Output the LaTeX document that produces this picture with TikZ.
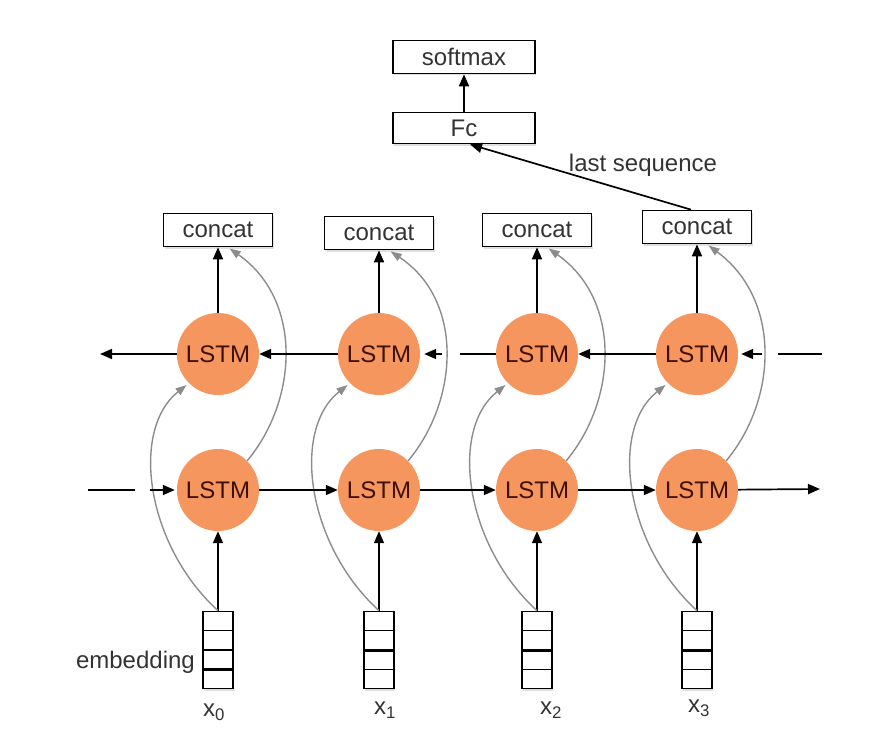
\documentclass[tikz,border=0pt]{standalone}
\usepackage{fontspec}
\setmainfont{Liberation Sans}
\usetikzlibrary{arrows.meta,shadows,calc}
\definecolor{lstmfill}{HTML}{F5965E}
\definecolor{lstmtext}{HTML}{3E1004}
\definecolor{txt}{HTML}{333333}
\definecolor{curvecol}{HTML}{8C8C8C}
\begin{document}
\begin{tikzpicture}[x=1pt,y=-1pt,
  font=\fontsize{24}{28}\selectfont,
  lstm/.style={circle,fill=lstmfill,minimum size=82pt,inner sep=0pt,text=lstmtext,font=\fontsize{24}{26}\selectfont},
  box/.style={draw=black,line width=1.7pt,fill=white,text=txt,minimum height=33pt,inner sep=0pt,
    drop shadow={shadow xshift=1pt,shadow yshift=-2pt,opacity=0.25}},
  emb/.style={draw=black,line width=1.7pt,fill=white,minimum width=30pt,minimum height=77pt,inner sep=0pt,
    drop shadow={shadow xshift=1pt,shadow yshift=-2pt,opacity=0.25}},
  lbl/.style={text=txt,inner sep=0pt},
  arr/.style={line width=1.7pt,-{Triangle[length=12pt,width=10pt]}},
  plainline/.style={line width=1.7pt},
  garr/.style={draw=curvecol,line width=1.4pt,-{Triangle[length=11pt,width=8pt]}},
]
\useasboundingbox (0,0) rectangle (892,752);

% top boxes
\node[box,minimum width=142pt] (sm) at (464,57) {softmax};
\node[box,minimum width=142pt,minimum height=31pt] (fc) at (464,128) {Fc};

% columns
\foreach \i/\cx/\cy/\th in {1/218/230/0.75,2/379/233/0.5,3/537/230/0.5,4/697/227/0.5}{
  \node[box,minimum width=109pt] (c\i) at (\cx,\cy) {concat};
  \node[lstm] (t\i) at (\cx,354) {LSTM};
  \node[lstm] (b\i) at (\cx,490) {LSTM};
  \node[emb] (e\i) at (\cx,650) {};
  \draw[line width=1.4pt] ($(e\i.north west)!0.25!(e\i.south west)$) -- ($(e\i.north east)!0.25!(e\i.south east)$);
  \draw[line width=1.4pt] ($(e\i.north west)!0.5!(e\i.south west)$) -- ($(e\i.north east)!0.5!(e\i.south east)$);
  \draw[line width=1.4pt] ($(e\i.north west)!0.75!(e\i.south west)$) -- ($(e\i.north east)!0.75!(e\i.south east)$);
  \draw[line width=3pt] ($(e\i.north west)!\th!(e\i.south west)$) -- ($(e\i.north east)!\th!(e\i.south east)$);
  % vertical black arrows
  \draw[arr] (e\i.north) -- (b\i.south);
  \draw[arr] (t\i.north) -- (t\i.north |- c\i.south);
  % gray curves
  \draw[garr,shorten >=3pt] (e\i.north) .. controls ({\cx-72},545) and ({\cx-88},430) .. (t\i.225);
  \draw[garr,shorten >=2pt] (b\i.45) .. controls ({\cx+80},400) and ({\cx+85},300) .. ($(c\i.south)+(10,0)$);
}

% labels under embeddings
\node[lbl] (x0) at (214,712) {x\textsubscript{0}};
\node[lbl] (x1) at (385,710) {x\textsubscript{1}};
\node[lbl] (x2) at (551,710) {x\textsubscript{2}};
\node[lbl] (x3) at (699,708) {x\textsubscript{3}};
\node[lbl,anchor=east] (embl) at (195,662) {embedding};

% output chain
\draw[arr] (fc.north) -- (sm.south);
\draw[arr] ($(c4.north)+(-6,0)$) -- ($(fc.south)+(6,0)$);
\node[lbl] (lastseq) at (643,165) {last sequence};

% top (backward) row
\coordinate (tl) at (100,354);
\draw[arr] (t1.west) -- (tl);
\draw[arr] (t2) -- (t1);
\coordinate (g1) at (460,354);
\coordinate (g2) at (442,354);
\draw[plainline] (t3.west) -- (g1);
\draw[arr,shorten >=4pt] (g2) -- (t2.east);
\draw[arr] (t4) -- (t3);
\coordinate (r1) at (822,354);
\coordinate (r2) at (778,354);
\coordinate (r3) at (762,354);
\draw[plainline] (r1) -- (r2);
\draw[arr,shorten >=3pt] (r3) -- (t4.east);

% bottom (forward) row
\coordinate (l1) at (88,490);
\coordinate (l2) at (135,490);
\coordinate (l3) at (150,490);
\draw[plainline] (l1) -- (l2);
\draw[arr,shorten >=2pt] (l3) -- (b1.west);
\draw[arr] (b1) -- (b2);
\draw[arr] (b2) -- (b3);
\draw[arr] (b3) -- (b4);
\coordinate (br) at (820,489);
\draw[arr] (b4) -- (br);
\end{tikzpicture}
\end{document}
